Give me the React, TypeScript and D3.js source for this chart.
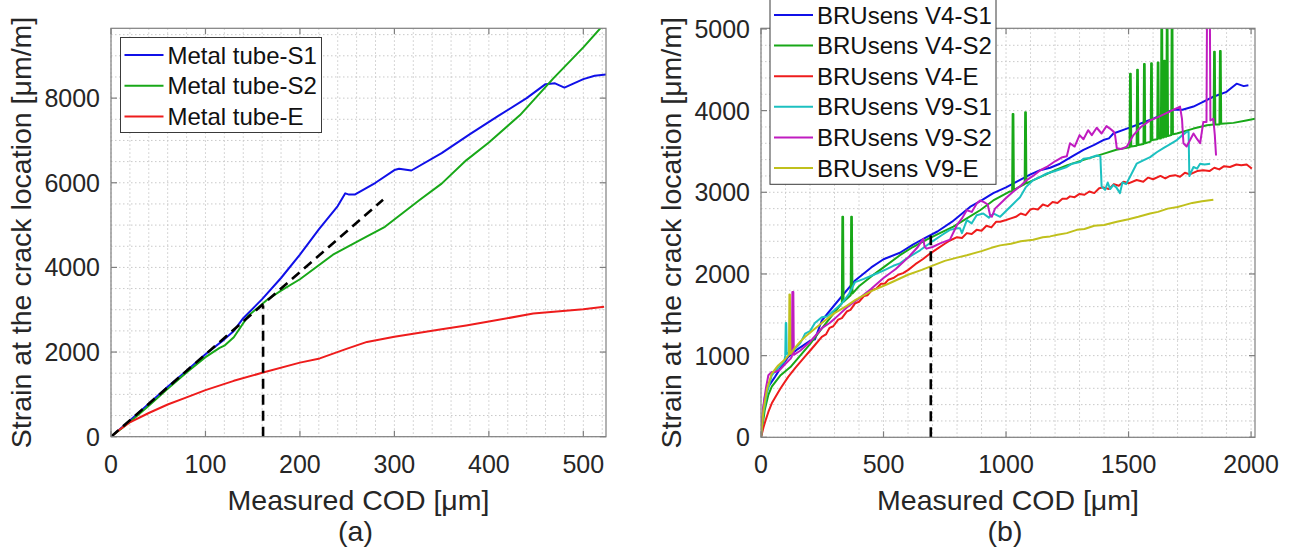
import React from 'react';
import * as d3 from 'd3';

type P = [number, number];

// ---------- Panel (a) data ----------
const aNames = ['Metal tube-S1', 'Metal tube-S2', 'Metal tube-E'];
const aXTicks = [0, 100, 200, 300, 400, 500];
const aYTicks = [0, 2000, 4000, 6000, 8000];

const aS1: P[] = [[0,0],[20,380],[40,780],[60,1180],[80,1560],[100,1950],[120,2300],[130,2500],[140,2800],[160,3250],[180,3750],[200,4300],[220,4900],[240,5450],[248,5750],[252,5720],[258,5720],[280,6000],[300,6300],[305,6330],[318,6290],[350,6700],[380,7150],[410,7580],[440,8000],[460,8330],[470,8350],[480,8250],[500,8450],[512,8530],[524,8560]];
const aS2: P[] = [[0,0],[20,350],[40,730],[60,1130],[80,1520],[100,1880],[115,2100],[120,2150],[130,2350],[145,2850],[165,3230],[180,3450],[200,3720],[235,4300],[270,4720],[290,4960],[327,5600],[350,5980],[376,6530],[400,6950],[433,7600],[468,8460],[500,9200],[520,9700]];
const aE: P[] = [[0,0],[10,180],[20,340],[40,560],[60,760],[80,930],[100,1100],[130,1320],[160,1510],[200,1750],[221,1850],[250,2080],[271,2240],[300,2360],[350,2540],[376,2630],[400,2720],[447,2910],[500,3010],[522,3070]];
const aDashSlope: P[] = [[0,0],[288,5600]];
const aDashVert: P[] = [[161,0],[161,3100]];

// ---------- Panel (b) data ----------
const bNames = ['BRUsens V4-S1', 'BRUsens V4-S2', 'BRUsens V4-E', 'BRUsens V9-S1', 'BRUsens V9-S2', 'BRUsens V9-E'];
const bXTicks = [0, 500, 1000, 1500, 2000];
const bYTicks = [0, 1000, 2000, 3000, 4000, 5000];

const bV4S1: P[] = [[0,0],[8,300],[16,500],[30,620],[57,740],[80,850],[110,980],[150,1080],[200,1180],[220,1200],[248,1430],[300,1620],[350,1800],[384,1920],[450,2080],[500,2180],[567,2260],[620,2360],[676,2450],[720,2520],[780,2640],[853,2820],[900,2900],[948,2990],[1000,3060],[1044,3130],[1100,3220],[1139,3270],[1180,3300],[1220,3350],[1270,3440],[1316,3520],[1360,3580],[1397,3640],[1420,3660],[1438,3720],[1493,3780],[1547,3840],[1600,3900],[1640,3960],[1683,4010],[1720,4010],[1765,4050],[1800,4100],[1846,4170],[1900,4230],[1941,4330],[1970,4300],[1989,4310]];
const bV4S2: P[] = [[0,0],[15,330],[30,520],[44,620],[80,760],[120,860],[160,1000],[200,1140],[250,1340],[300,1530],[330,1640],[332,2700],[335,2700],[337,1660],[366,1740],[368,2700],[371,2700],[373,1760],[400,1850],[450,1970],[500,2080],[567,2230],[620,2330],[676,2420],[730,2500],[785,2580],[840,2680],[894,2780],[948,2900],[1016,3010],[1025,3010],[1027,3960],[1030,3960],[1032,3030],[1076,3100],[1078,3980],[1081,3980],[1083,3110],[1150,3200],[1200,3270],[1248,3330],[1320,3400],[1397,3470],[1450,3520],[1504,3550],[1506,4450],[1509,4450],[1511,3560],[1533,3570],[1535,4500],[1538,4500],[1540,3580],[1561,3590],[1563,4570],[1566,4570],[1568,3600],[1590,3620],[1592,4580],[1595,4580],[1597,3640],[1617,3650],[1619,4590],[1622,4590],[1624,3660],[1632,3660],[1634,5100],[1637,5100],[1639,3670],[1643,3670],[1645,4610],[1648,4610],[1650,3680],[1654,3680],[1656,5100],[1659,5100],[1661,3690],[1674,3700],[1676,5100],[1679,5100],[1681,3710],[1697,3720],[1765,3780],[1820,3820],[1847,3830],[1849,4720],[1852,4720],[1854,3830],[1871,3830],[1873,4730],[1876,4730],[1878,3840],[1928,3850],[1980,3880],[2016,3900]];
const bV4E: P[] = [[0,0],[10,120],[20,220],[30,310],[44,416],[60,500],[80,600],[111,740],[140,850],[160,920],[180,990],[200,1060],[220,1130],[248,1230],[265,1260],[280,1340],[295,1360],[315,1440],[330,1460],[350,1540],[365,1560],[384,1640],[400,1660],[420,1730],[435,1740],[452,1800],[470,1820],[490,1880],[505,1880],[520,1930],[540,1950],[560,1990],[580,2010],[601,2050],[630,2120],[660,2180],[690,2250],[720,2310],[750,2370],[771,2410],[800,2450],[820,2440],[840,2500],[860,2490],[880,2540],[900,2530],[920,2590],[940,2570],[960,2640],[976,2640],[1000,2660],[1020,2680],[1040,2700],[1060,2740],[1080,2720],[1100,2790],[1111,2800],[1130,2790],[1150,2850],[1170,2830],[1190,2880],[1210,2870],[1230,2920],[1248,2920],[1261,2950],[1280,2940],[1300,2980],[1320,2970],[1340,3010],[1360,2990],[1380,3050],[1397,3060],[1420,3040],[1440,3100],[1460,3080],[1480,3130],[1500,3110],[1533,3150],[1560,3130],[1580,3180],[1600,3160],[1630,3200],[1650,3170],[1669,3200],[1690,3210],[1710,3190],[1730,3240],[1750,3220],[1780,3260],[1805,3270],[1830,3260],[1850,3300],[1870,3280],[1890,3320],[1914,3310],[1940,3340],[1960,3330],[1982,3340],[1995,3310],[2003,3290]];
const bV9S1: P[] = [[0,0],[10,300],[25,550],[44,760],[70,850],[95,930],[99,1000],[101,1400],[103,1400],[105,1020],[130,1060],[160,1150],[180,1270],[200,1300],[220,1400],[248,1470],[270,1480],[300,1560],[330,1640],[360,1760],[384,1900],[420,1940],[460,1990],[500,2040],[540,2100],[567,2130],[600,2200],[649,2290],[700,2400],[740,2480],[771,2540],[800,2560],[812,2560],[820,2500],[840,2660],[860,2620],[880,2720],[907,2740],[930,2690],[950,2740],[976,2700],[1003,2780],[1030,2860],[1057,2940],[1080,3060],[1111,3150],[1140,3190],[1166,3230],[1200,3260],[1248,3310],[1270,3350],[1302,3370],[1316,3410],[1340,3420],[1370,3450],[1385,3440],[1390,3070],[1404,3030],[1415,3120],[1425,3040],[1438,3090],[1450,3060],[1465,2990],[1475,3120],[1490,3100],[1506,3190],[1533,3350],[1560,3390],[1588,3430],[1615,3490],[1642,3540],[1670,3590],[1697,3640],[1720,3700],[1737,3740],[1745,3740],[1748,3200],[1765,3310],[1780,3290],[1792,3350],[1810,3340],[1833,3350]];
const bV9S2: P[] = [[0,0],[8,350],[20,600],[30,760],[44,800],[60,800],[78,830],[100,900],[120,960],[126,990],[128,1780],[132,1780],[134,1010],[160,1060],[200,1170],[250,1340],[280,1400],[300,1450],[350,1590],[400,1700],[450,1820],[500,1950],[550,2060],[600,2200],[640,2330],[662,2430],[668,2330],[676,2310],[700,2330],[731,2375],[771,2420],[800,2600],[820,2680],[840,2780],[860,2760],[880,2860],[894,2900],[910,2880],[925,2850],[935,2720],[942,2700],[955,2800],[976,2860],[1000,2930],[1030,3010],[1060,3080],[1084,3150],[1110,3200],[1140,3270],[1166,3310],[1200,3380],[1230,3430],[1248,3440],[1261,3600],[1280,3560],[1300,3700],[1316,3650],[1335,3760],[1350,3700],[1370,3790],[1390,3720],[1410,3810],[1424,3780],[1440,3740],[1445,3700],[1452,3540],[1470,3530],[1493,3560],[1520,3700],[1550,3800],[1588,3880],[1620,3920],[1669,3990],[1710,4050],[1718,3900],[1724,3600],[1737,3560],[1765,3720],[1780,3650],[1792,3600],[1805,3860],[1818,3860],[1820,5100],[1832,5100],[1834,3880],[1846,3900],[1852,3700],[1857,3450]];
const bV9E: P[] = [[0,0],[10,330],[25,600],[44,780],[70,880],[100,960],[111,1000],[114,1010],[116,1750],[118,1750],[120,1020],[140,1100],[160,1170],[180,1230],[200,1280],[248,1400],[300,1520],[350,1610],[384,1680],[450,1790],[520,1880],[600,1990],[656,2050],[690,2090],[750,2160],[800,2200],[840,2230],[900,2280],[940,2320],[976,2350],[1020,2370],[1060,2400],[1111,2420],[1150,2450],[1180,2460],[1210,2480],[1248,2500],[1289,2540],[1320,2550],[1360,2590],[1400,2600],[1452,2640],[1500,2670],[1540,2700],[1588,2740],[1620,2760],[1660,2800],[1700,2820],[1724,2840],[1760,2870],[1800,2890],[1846,2910]];
const bDashVert: P[] = [[693,0],[693,2470]];

const FONT = 'Liberation Sans, Arial, Helvetica, sans-serif';
const TXT = '#262626';
const AX = '#7f7f7f';

interface Series { name: string; color: string; data: P[] }

interface PanelProps {
  id: string;
  left: number; right: number; top: number; bottom: number;
  xMax: number; yMax: number;
  xTicks: number[]; yTicks: number[];
  xMinor: number; yMinor: number;
  series: Series[];
  dashed: P[][];
  legend: { x: number; y: number; w: number; h: number; first: number; step: number };
  yLabelX: number;
  tag: string;
}

function Panel(p: PanelProps) {
  const x = d3.scaleLinear().domain([0, p.xMax]).range([p.left, p.right]);
  const y = d3.scaleLinear().domain([0, p.yMax]).range([p.bottom, p.top]);
  const line = d3.line<P>().x(d => x(d[0])).y(d => y(d[1]));
  const xMinorVals = d3.range(0, p.xMax + 1e-6, p.xMinor);
  const yMinorVals = d3.range(0, p.yMax + 1e-6, p.yMinor);
  const cx = (p.left + p.right) / 2;
  const cy = (p.top + p.bottom) / 2;
  const tl = 6;
  return (
    <g>
      <defs>
        <clipPath id={p.id}>
          <rect x={p.left} y={p.top} width={p.right - p.left} height={p.bottom - p.top} />
        </clipPath>
      </defs>
      {/* grid */}
      {xMinorVals.map((v, i) => (
        <line key={'gx' + i} x1={x(v)} x2={x(v)} y1={p.top} y2={p.bottom}
          stroke="#c9c9c9" strokeWidth={1} strokeDasharray="1.5,2.5" />
      ))}
      {yMinorVals.map((v, i) => (
        <line key={'gy' + i} x1={p.left} x2={p.right} y1={y(v)} y2={y(v)}
          stroke="#c9c9c9" strokeWidth={1} strokeDasharray="1.5,2.5" />
      ))}
      {/* data */}
      <g clipPath={`url(#${p.id})`}>
        {p.series.map(s => (
          <path key={s.name} d={line(s.data) || ''} fill="none" stroke={s.color}
            strokeWidth={2} strokeLinejoin="round" />
        ))}
        {p.dashed.map((d, i) => (
          <path key={'d' + i} d={line(d) || ''} fill="none" stroke="#000"
            strokeWidth={2.6} strokeDasharray="10,6" />
        ))}
      </g>
      {/* box */}
      <rect x={p.left} y={p.top} width={p.right - p.left} height={p.bottom - p.top}
        fill="none" stroke={AX} strokeWidth={1.2} />
      {p.xTicks.map(v => (
        <g key={'xt' + v}>
          <line x1={x(v)} x2={x(v)} y1={p.bottom} y2={p.bottom - tl} stroke={AX} strokeWidth={1.2} />
          <line x1={x(v)} x2={x(v)} y1={p.top} y2={p.top + tl} stroke={AX} strokeWidth={1.2} />
          <text x={x(v)} y={p.bottom + 36} textAnchor="middle" fontSize={25} fill={TXT} fontFamily={FONT}>{v}</text>
        </g>
      ))}
      {p.yTicks.map(v => (
        <g key={'yt' + v}>
          <line x1={p.left} x2={p.left + tl} y1={y(v)} y2={y(v)} stroke={AX} strokeWidth={1.2} />
          <line x1={p.right} x2={p.right - tl} y1={y(v)} y2={y(v)} stroke={AX} strokeWidth={1.2} />
          <text x={p.left - 11} y={y(v)} dy="0.36em" textAnchor="end" fontSize={25} fill={TXT} fontFamily={FONT}>{v}</text>
        </g>
      ))}
      {/* labels */}
      <text x={cx} y={p.bottom + 73} textAnchor="middle" fontSize={28.5} fill={TXT} fontFamily={FONT}>Measured COD [μm]</text>
      <text x={cx - 3} y={p.bottom + 104} textAnchor="middle" fontSize={28.5} fill={TXT} fontFamily={FONT}>{p.tag}</text>
      <text transform={`translate(${p.yLabelX},${cy}) rotate(-90)`} textAnchor="middle" fontSize={28.5} fill={TXT} fontFamily={FONT}>Strain at the crack location [μm/m]</text>
      {/* legend */}
      <rect x={p.legend.x} y={p.legend.y} width={p.legend.w} height={p.legend.h} fill="#fff" stroke="#3a3a3a" strokeWidth={1} />
      {p.series.map((s, i) => {
        const ly = p.legend.first + i * p.legend.step;
        return (
          <g key={'lg' + i}>
            <line x1={p.legend.x + 4} x2={p.legend.x + 43} y1={ly} y2={ly} stroke={s.color} strokeWidth={2} />
            <text x={p.legend.x + 47} y={ly} dy="0.36em" fontSize={24} fill="#111" fontFamily={FONT}>{s.name}</text>
          </g>
        );
      })}
    </g>
  );
}

export default function App() {
  const aColors = ['#1010e8', '#18a818', '#ee1c1c'];
  const bColors = ['#1010e8', '#18a818', '#ee1c1c', '#1cc0c0', '#c01cc0', '#c0c01c'];
  const aData = [aS1, aS2, aE];
  const bData = [bV4S1, bV4S2, bV4E, bV9S1, bV9S2, bV9E];
  const aSeries: Series[] = aNames.map((n, i) => ({ name: n, color: aColors[i], data: aData[i] }));
  const bSeries: Series[] = bNames.map((n, i) => ({ name: n, color: bColors[i], data: bData[i] }));
  return (
    <svg width={1293} height={554} style={{ position: 'absolute', left: 0, top: 0, background: '#fff' }}>
      <rect x={0} y={0} width={1293} height={554} fill="#fff" />
      <Panel id="clipA" left={111} right={606} top={28.3} bottom={436.7} xMax={524} yMax={9650}
        xTicks={aXTicks} yTicks={aYTicks} xMinor={20} yMinor={500} series={aSeries}
        dashed={[aDashSlope, aDashVert]}
        legend={{ x: 120.5, y: 37.5, w: 201, h: 95, first: 55, step: 30.8 }}
        yLabelX={31} tag="(a)" />
      <Panel id="clipB" left={761} right={1255} top={28.3} bottom={437.3} xMax={2016} yMax={5008}
        xTicks={bXTicks} yTicks={bYTicks} xMinor={100} yMinor={200} series={bSeries}
        dashed={[bDashVert]}
        legend={{ x: 770, y: -2, w: 226, h: 186.3, first: 15, step: 30.6 }}
        yLabelX={681} tag="(b)" />
    </svg>
  );
}
